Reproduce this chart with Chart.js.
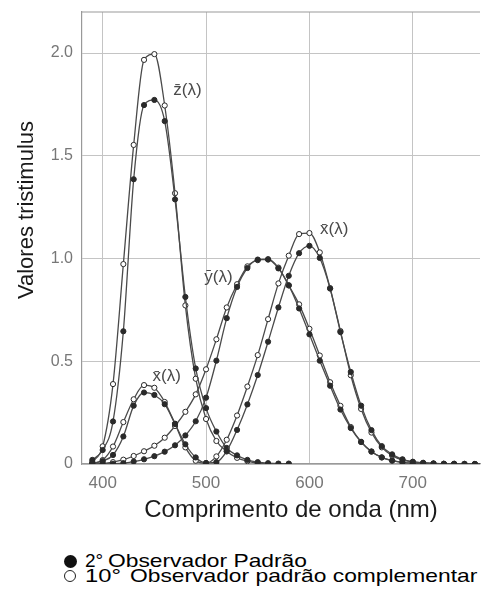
<!DOCTYPE html>
<html lang="pt">
<head>
<meta charset="utf-8">
<title>Valores tristimulus</title>
<script src="https://cdn.jsdelivr.net/npm/chart.js@4.4.1/dist/chart.umd.min.js"></script>
<style>
  html, body { margin: 0; padding: 0; background: #fff; }
  #wrap { position: relative; width: 485px; height: 606px; overflow: hidden; }
  #box { position: absolute; left: 0; top: 0; width: 485px; height: 530px; }
  .leg {
    position: absolute;
    font-family: "Liberation Sans", Arial, sans-serif;
    font-size: 19px;
    line-height: 19px;
    color: #000;
    white-space: pre;
    transform-origin: 0 0;
    transform: scaleX(1.2);
  }
  .mk { position: absolute; box-sizing: border-box; border-radius: 50%; }
  .mk.cheio { width: 13px; height: 13px; background: #111; }
  .mk.vazio { width: 12px; height: 12px; border: 1.8px solid #222; background: #fff; }
</style>
</head>
<body>
<div id="wrap">
  <div id="box"><canvas id="grafico"></canvas></div>
  <div class="mk cheio" style="left:64px;top:555px"></div>
  <span class="leg" style="left:85px;top:551px;transform:none">2°</span>
  <span class="leg" style="left:108px;top:551px">Observador Padrão</span>
  <div class="mk vazio" style="left:64px;top:570px"></div>
  <span class="leg" style="left:85px;top:566px;transform:scaleX(1.25)">10°</span>
  <span class="leg" style="left:130px;top:566px">Observador padrão complementar</span>
</div>
<script>
// === Comprimentos de onda (nm), de 10 em 10 ===
const comprimentos = [390, 400, 410, 420, 430, 440, 450, 460, 470, 480,
  490, 500, 510, 520, 530, 540, 550, 560, 570, 580,
  590, 600, 610, 620, 630, 640, 650, 660, 670, 680,
  690, 700, 710, 720, 730, 740, 750, 760, 770, 780];

// === Observador 2° (pontos cheios) ===
const x2 = [0.004, 0.014, 0.044, 0.134, 0.284, 0.348, 0.336, 0.291, 0.195, 0.096,
  0.032, 0.005, 0.009, 0.063, 0.166, 0.290, 0.433, 0.595, 0.762, 0.916,
  1.026, 1.062, 1.003, 0.854, 0.642, 0.448, 0.284, 0.165, 0.087, 0.047,
  0.023, 0.011, 0.006, 0.003, 0.001, 0.001, 0, 0, 0, 0];
const y2 = [0.000, 0.000, 0.001, 0.004, 0.012, 0.023, 0.038, 0.060, 0.091, 0.139,
  0.208, 0.323, 0.503, 0.710, 0.862, 0.954, 0.995, 0.995, 0.952, 0.870,
  0.757, 0.631, 0.503, 0.381, 0.265, 0.175, 0.107, 0.061, 0.032, 0.017,
  0.008, 0.004, 0.002, 0.001, 0.001, 0, 0, 0, 0, 0];
const z2 = [0.020, 0.068, 0.207, 0.646, 1.386, 1.747, 1.772, 1.669, 1.288, 0.813,
  0.465, 0.272, 0.158, 0.078, 0.042, 0.020, 0.009, 0.004, 0.002, 0.002];

// === Observador 10° (pontos vazados) ===
const x10 = [0.002, 0.019, 0.085, 0.204, 0.315, 0.384, 0.371, 0.302, 0.196, 0.081,
  0.016, 0.004, 0.037, 0.118, 0.236, 0.377, 0.530, 0.705, 0.879, 1.014,
  1.119, 1.124, 1.030, 0.856, 0.647, 0.432, 0.268, 0.153, 0.081, 0.041,
  0.020, 0.010, 0.005, 0.002, 0.001, 0.001, 0, 0, 0, 0];
const y10 = [0.000, 0.002, 0.009, 0.021, 0.039, 0.062, 0.089, 0.128, 0.185, 0.254,
  0.339, 0.461, 0.607, 0.762, 0.875, 0.962, 0.992, 0.997, 0.956, 0.869,
  0.777, 0.658, 0.528, 0.398, 0.283, 0.180, 0.108, 0.060, 0.032, 0.016,
  0.008, 0.004, 0.002, 0.001, 0, 0, 0, 0, 0, 0];
const z10 = [0.010, 0.086, 0.389, 0.973, 1.553, 1.967, 1.995, 1.745, 1.318, 0.772,
  0.415, 0.219, 0.112, 0.061, 0.030, 0.014, 0.004, 0, 0, 0];

// === Eixos ===
const xTicks = [400, 500, 600, 700];
const yTicks = [0, 0.5, 1.0, 1.5, 2.0];
const yTickLabels = ['0', '0.5', '1.0', '1.5', '2.0'];

// === Rótulos das curvas (em coordenadas dos dados) ===
const rotulosCurvas = [
  { texto: 'z̄(λ)', x: 482, y: 1.82 },
  { texto: 'ȳ(λ)', x: 512, y: 0.91 },
  { texto: 'x̄(λ)', x: 624, y: 1.14 },
  { texto: 'x̄(λ)', x: 462, y: 0.425 }
];

const pontos = valores => valores.map((v, i) => ({ x: comprimentos[i], y: v }));

function serie(valores, cheio) {
  return {
    data: pontos(valores),
    borderColor: '#4a4a4a',
    borderWidth: 1.3,
    pointRadius: 2.6,
    pointBorderWidth: 1,
    pointBorderColor: '#2a2a2a',
    pointBackgroundColor: cheio ? '#2a2a2a' : '#fff',
    tension: 0.4,
    cubicInterpolationMode: 'monotone',
    order: cheio ? 0 : 1
  };
}

// === Borda superior do gráfico ===
const bordaTopo = {
  id: 'bordaTopo',
  beforeDatasetsDraw(chart) {
    const { ctx, chartArea: a } = chart;
    ctx.save();
    ctx.strokeStyle = '#999';
    ctx.lineWidth = 1.2;
    ctx.beginPath();
    ctx.moveTo(a.left, a.top);
    ctx.lineTo(a.right, a.top);
    ctx.stroke();
    ctx.restore();
  }
};

// === Rótulos das curvas e títulos dos eixos ===
const textos = {
  id: 'textos',
  afterDatasetsDraw(chart) {
    const { ctx, scales } = chart;
    ctx.save();
    ctx.fillStyle = '#4a4a4a';
    ctx.font = '17px "Liberation Sans", Arial, sans-serif';
    ctx.textAlign = 'center';
    ctx.textBaseline = 'middle';
    rotulosCurvas.forEach(r => {
      ctx.fillText(r.texto, scales.x.getPixelForValue(r.x), scales.y.getPixelForValue(r.y));
    });

    ctx.fillStyle = '#1a1a1a';
    ctx.font = '24px "Liberation Sans", Arial, sans-serif';
    ctx.fillText('Comprimento de onda (nm)', 291, 510);

    ctx.font = '22px "Liberation Sans", Arial, sans-serif';
    ctx.translate(27, 210);
    ctx.rotate(-Math.PI / 2);
    ctx.fillText('Valores tristimulus', 0, 0);
    ctx.restore();
  }
};

new Chart(document.getElementById('grafico'), {
  type: 'line',
  data: {
    datasets: [
      serie(x10, false), serie(y10, false), serie(z10, false),
      serie(x2, true), serie(y2, true), serie(z2, true)
    ]
  },
  options: {
    responsive: true,
    maintainAspectRatio: false,
    animation: false,
    layout: { padding: { left: 11, right: 0, top: 12, bottom: 0 } },
    plugins: { legend: { display: false }, tooltip: { enabled: false } },
    scales: {
      x: {
        type: 'linear',
        min: 380,
        max: 765,
        afterBuildTicks: s => { s.ticks = xTicks.map(v => ({ value: v })); },
        afterFit: s => { s.height = 66; s.paddingLeft = 0; s.paddingRight = 0; },
        grid: { color: '#c4c4c4', lineWidth: 1, drawTicks: false },
        border: { display: true, color: '#999', width: 1.2 },
        ticks: {
          padding: 9,
          color: '#777',
          font: { family: '"Liberation Sans", Arial, sans-serif', size: 17 },
          callback: v => String(v)
        }
      },
      y: {
        min: 0,
        max: 2.2,
        afterBuildTicks: s => { s.ticks = yTicks.map(v => ({ value: v })); },
        afterFit: s => { s.width = 71; s.paddingTop = 0; s.paddingBottom = 0; },
        grid: { color: '#c4c4c4', lineWidth: 1, drawTicks: false },
        border: { display: true, color: '#999', width: 1.2 },
        ticks: {
          padding: 9,
          color: '#777',
          font: { family: '"Liberation Sans", Arial, sans-serif', size: 16 },
          callback: (v, i) => yTickLabels[i]
        }
      }
    }
  },
  plugins: [bordaTopo, textos]
});
</script>
</body>
</html>
